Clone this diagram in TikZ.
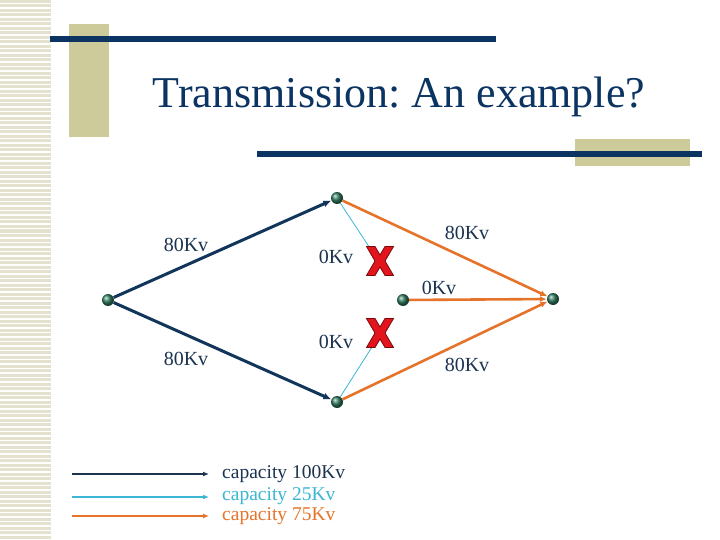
\documentclass[tikz,border=0pt]{standalone}
\usepackage{fontspec}
\setmainfont{Liberation Serif}
\usetikzlibrary{arrows.meta}
\definecolor{navy}{HTML}{0B3463}
\definecolor{khaki}{HTML}{CDCB9A}
\definecolor{stripe}{HTML}{E4E2CE}
\definecolor{edgenavy}{HTML}{12355B}
\definecolor{edgecyan}{HTML}{3BB6D4}
\definecolor{edgeorange}{HTML}{E6732A}
\definecolor{labnavy}{HTML}{1B3350}
\definecolor{ballgreen}{HTML}{2F7A5E}
\definecolor{xred}{HTML}{E3141C}
\definecolor{xdark}{HTML}{7A0A0A}
\frenchspacing
\begin{document}
\begin{tikzpicture}[x=1pt,y=-1pt,
  ballnode/.style={circle,minimum size=12pt,inner sep=0pt,shading=ball,ball color=ballgreen},
  navyedge/.style={draw=edgenavy,line width=3pt,-{Latex[length=8pt,width=7pt]}},
  orangeedge/.style={draw=edgeorange,line width=2.6pt,-{Latex[length=7pt,width=6pt]}},
  cyanedge/.style={draw=edgecyan,line width=0.8pt},
  lab/.style={font=\fontsize{20}{22}\selectfont,text=labnavy,inner sep=0pt},
  legtext/.style={font=\fontsize{19.5}{21}\selectfont,anchor=west,inner sep=0pt},
  crossmark/.pic={\filldraw[fill=xred,draw=xdark,line width=0.8pt,line join=miter]
     (-13.5,-14.5) -- (-5,-14.5) -- (0,-6) -- (5,-14.5) -- (13.5,-14.5) -- (5,0)
     -- (13.5,14.5) -- (5,14.5) -- (0,6) -- (-5,14.5) -- (-13.5,14.5) -- (-5,0) -- cycle;}
]
\useasboundingbox (0,0) rectangle (720,540);
\fill[white] (0,0) rectangle (720,540);
% striped left band
\fill[stripe] (0,0) rectangle (51,540);
\foreach \i in {0,...,119} {
  \fill[white] (0,{\i*4.5+3}) rectangle (51,{\i*4.5+4.5});
}
% decorations
\fill[khaki] (69,24) rectangle (109,137);
\fill[navy] (50,36) rectangle (496,42);
\fill[khaki] (575,139) rectangle (690,166);
\fill[navy] (257,151) rectangle (702,157);
% title
\node[font=\fontsize{44}{50}\selectfont,text=navy,anchor=base,inner sep=0pt] (title) at (399,108) {Transmission: An example?};
% graph nodes
\node[ballnode] (L) at (108,300) {};
\node[ballnode] (T) at (337,198) {};
\node[ballnode] (B) at (337,402) {};
\node[ballnode] (M) at (403,300) {};
\node[ballnode] (R) at (553,299) {};
\coordinate (X1) at (379,262);
\coordinate (X2) at (379,336);
% edges
\draw[cyanedge] (T) -- (X1);
\draw[cyanedge] (B) -- (X2);
\draw[navyedge] (L) -- (T);
\draw[navyedge] (L) -- (B);
\draw[orangeedge] (T) -- (R);
\draw[orangeedge] (M) -- (R);
\draw[orangeedge] (B) -- (R);
% cross marks
\pic at (380,261) {crossmark};
\pic at (380,333) {crossmark};
% labels
\node[lab] (l1) at (186,245) {80Kv};
\node[lab] (l2) at (186,359) {80Kv};
\node[lab] (l3) at (336,257) {0Kv};
\node[lab] (l4) at (336,342) {0Kv};
\node[lab] (l5) at (467,233) {80Kv};
\node[lab] (l6) at (439,288) {0Kv};
\node[lab] (l7) at (467,365) {80Kv};
% legend
\coordinate (a1) at (72,474);
\coordinate (a2) at (72,497);
\coordinate (a3) at (72,516);
\node[legtext,text=labnavy] (t1) at (222,474) {capacity 100Kv};
\node[legtext,text=edgecyan] (t2) at (222,496) {capacity 25Kv};
\node[legtext,text=edgeorange] (t3) at (222,516) {capacity 75Kv};
\draw[draw=labnavy,line width=1.6pt,-{Latex[length=6pt,width=5pt]}] (a1) -- ([xshift=-13pt]t1.west);
\draw[draw=edgecyan,line width=1.6pt,-{Latex[length=6pt,width=5pt]}] (a2) -- ([xshift=-13pt]t2.west|-a2);
\draw[draw=edgeorange,line width=1.6pt,-{Latex[length=6pt,width=5pt]}] (a3) -- ([xshift=-13pt]t3.west|-a3);
\end{tikzpicture}
\end{document}
